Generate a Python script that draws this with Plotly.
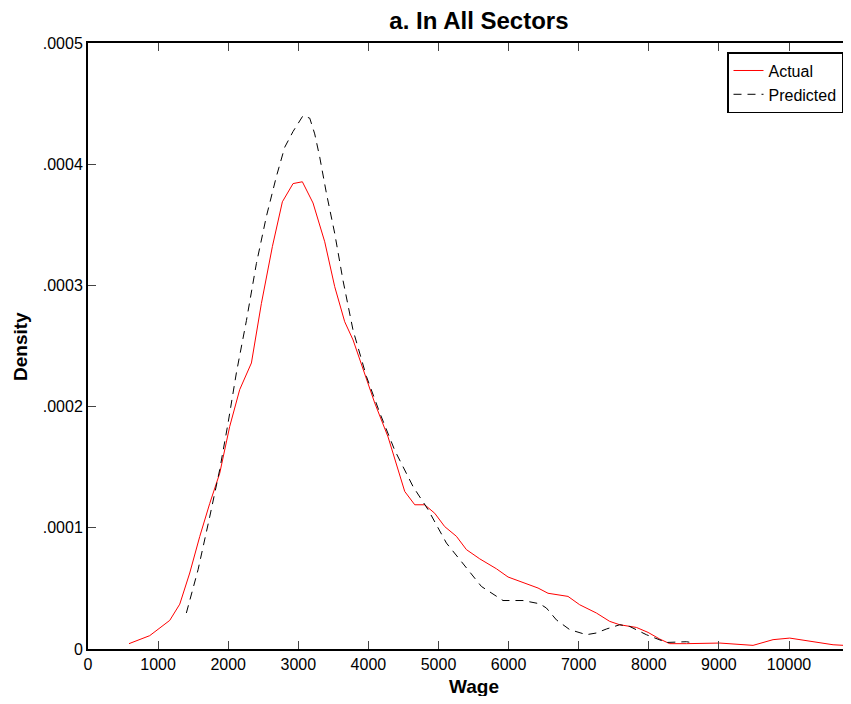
import plotly.graph_objects as go

# Actual wage density
actual_wage = [585, 880, 1166, 1309, 1451, 1594, 1736, 1879, 2021, 2164, 2331, 2473, 2630,
               2773, 2925, 3058, 3210, 3377, 3519, 3662, 3781, 4090, 4280, 4518, 4661, 4803,
               4946, 5088, 5255, 5398, 5588, 5826, 5992, 6206, 6420, 6562, 6847, 7014, 7252,
               7442, 7585, 7823, 7989, 8156, 8298, 8536, 9012, 9487, 9772, 10010, 10342,
               10628, 10880]
actual_density = [4.4e-6, 1.1e-5, 2.36e-5, 3.7e-5, 6.27e-5, 9.28e-5, 1.2e-4, 1.45e-4, 1.835e-4,
                  2.14e-4, 2.36e-4, 2.85e-4, 3.32e-4, 3.69e-4, 3.84e-4, 3.855e-4, 3.68e-4,
                  3.36e-4, 2.99e-4, 2.70e-4, 2.55e-4, 2.03e-4, 1.75e-4, 1.30e-4, 1.19e-4,
                  1.19e-4, 1.12e-4, 1.01e-4, 9.3e-5, 8.2e-5, 7.44e-5, 6.62e-5, 5.94e-5, 5.5e-5,
                  5.03e-5, 4.6e-5, 4.34e-5, 3.65e-5, 2.97e-5, 2.28e-5, 2.0e-5, 1.78e-5, 1.37e-5,
                  8.2e-6, 4.4e-6, 4.4e-6, 4.9e-6, 3.0e-6, 7.7e-6, 9.0e-6, 6.3e-6, 3.5e-6, 2.7e-6]

# Predicted wage density
predicted_wage = [1403, 1570, 1736, 1879, 1997, 2117, 2260, 2402, 2545, 2688, 2806, 2925, 3067,
                  3163, 3234, 3305, 3401, 3519, 3638, 3781, 3971, 4161, 4375, 4637, 4851, 5113,
                  5300, 5445, 5612, 5920, 6206, 6444, 6539, 6682, 6871, 7109, 7252, 7395, 7585,
                  7727, 7965, 8251, 8536, 8655]
predicted_density = [2.97e-5, 6.54e-5, 1.09e-4, 1.48e-4, 1.86e-4, 2.28e-4, 2.71e-4, 3.18e-4,
                     3.57e-4, 3.90e-4, 4.14e-4, 4.27e-4, 4.40e-4, 4.38e-4, 4.25e-4, 4.06e-4,
                     3.76e-4, 3.43e-4, 3.04e-4, 2.63e-4, 2.25e-4, 1.95e-4, 1.64e-4, 1.34e-4,
                     1.15e-4, 8.74e-5, 7.4e-5, 6.4e-5, 5.16e-5, 4.0e-5, 4.0e-5, 3.73e-5, 3.38e-5,
                     2.4e-5, 1.6e-5, 1.18e-5, 1.32e-5, 1.65e-5, 2.0e-5, 1.86e-5, 1.18e-5, 5.4e-6,
                     6.0e-6, 4.9e-6]

x_ticks = [0, 1000, 2000, 3000, 4000, 5000, 6000, 7000, 8000, 9000, 10000]
x_tick_labels = ["0", "1000", "2000", "3000", "4000", "5000", "6000", "7000", "8000", "9000", "10000"]
y_ticks = [0, 0.0001, 0.0002, 0.0003, 0.0004, 0.0005]
y_tick_labels = ["0", ".0001", ".0002", ".0003", ".0004", ".0005"]

FONT = "Liberation Sans, Arial, sans-serif"

fig = go.Figure()
fig.add_trace(go.Scatter(x=actual_wage, y=actual_density, mode="lines", name="Actual",
                         line=dict(color="#ff0000", width=1)))
fig.add_trace(go.Scatter(x=predicted_wage, y=predicted_density, mode="lines", name="Predicted",
                         line=dict(color="#000000", width=1, dash="8px,6px")))

fig.update_layout(
    width=835, height=688,
    margin=dict(l=80, r=0, t=35, b=47, autoexpand=False),
    paper_bgcolor="white", plot_bgcolor="white",
    font=dict(family=FONT, color="black", size=16),
    title=dict(text="<b>a. In All Sectors</b>", x=0.564, xanchor="center",
               y=0.982, yanchor="middle", font=dict(size=24, family=FONT)),
    showlegend=True,
    legend=dict(x=1, xanchor="right", y=0.985, yanchor="top",
                bordercolor="black", borderwidth=1.5, bgcolor="white",
                font=dict(size=16, family=FONT), itemwidth=30,
                tracegroupgap=0),
    xaxis=dict(range=[0, 10770], tickvals=x_ticks, ticktext=x_tick_labels,
               ticks="inside", ticklen=8, automargin=False,
               showline=True, linecolor="black", linewidth=2, mirror="ticks",
               showgrid=False, zeroline=False, tickfont=dict(size=16)),
    yaxis=dict(range=[0, 0.0005], tickvals=y_ticks, ticktext=y_tick_labels,
               ticks="inside", ticklen=8, automargin=False,
               showline=True, linecolor="black", linewidth=2,
               showgrid=False, zeroline=False, tickfont=dict(size=16)),
    annotations=[
        dict(text="<b>Wage</b>", xref="paper", yref="paper", x=0.511, y=-0.0614,
             xanchor="center", yanchor="middle", showarrow=False,
             font=dict(size=19, family=FONT)),
        dict(text="<b>Density</b>", xref="paper", yref="paper", x=-0.0901, y=0.5,
             xanchor="center", yanchor="middle", showarrow=False, textangle=-90,
             font=dict(size=19, family=FONT)),
    ],
)

fig.write_html("out.html")
